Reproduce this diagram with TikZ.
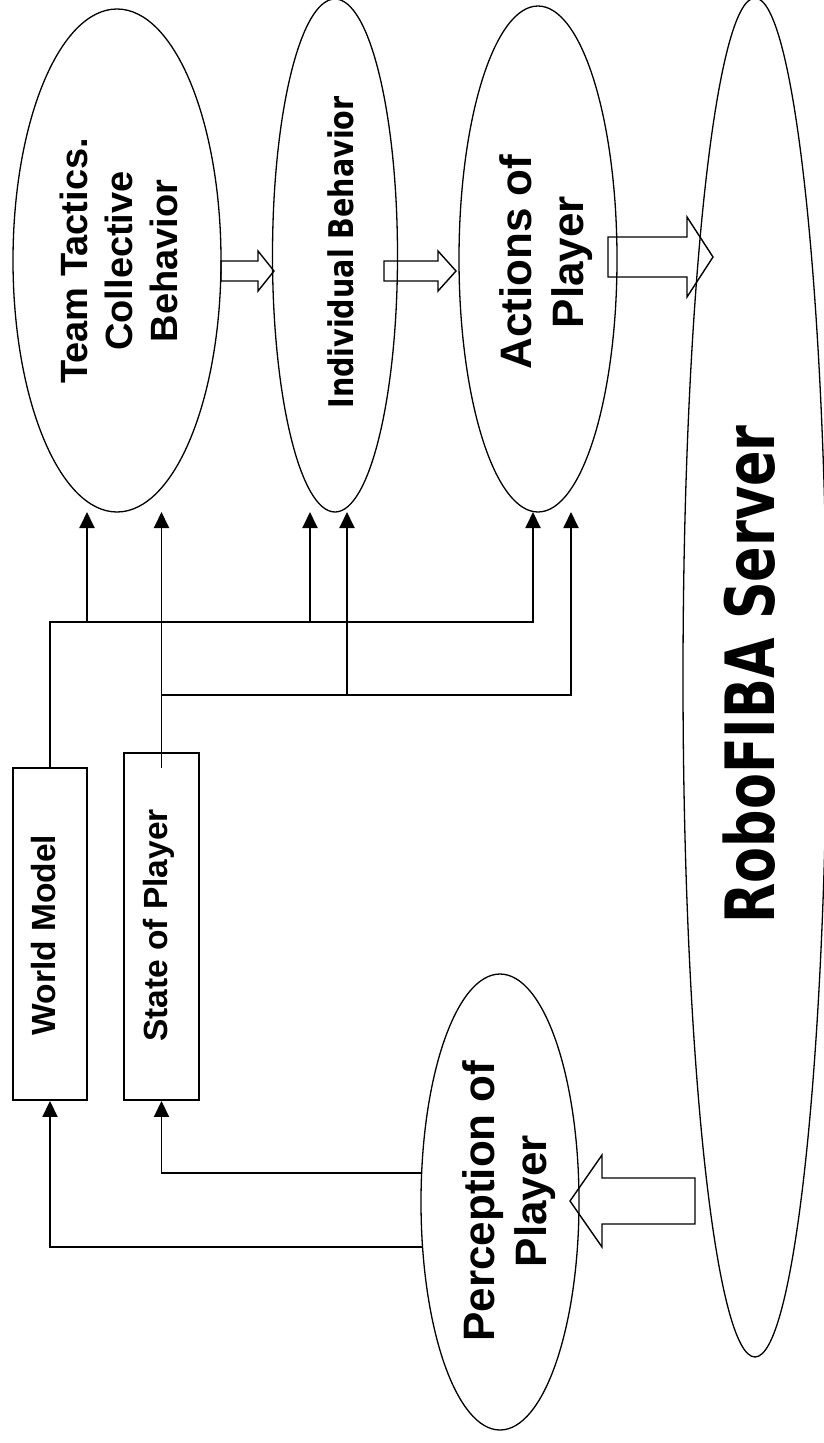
\documentclass[tikz,border=0pt]{standalone}
\usepackage{fontspec}
\setmainfont{Liberation Sans}
\newfontfamily\srvfont{DejaVu Sans}[FakeStretch=0.77]
\newfontfamily\indfont{DejaVu Sans}[FakeStretch=0.84]
\usetikzlibrary{shapes.geometric,arrows.meta}
\begin{document}
\begin{tikzpicture}[x=1pt,y=-1pt,
  oval/.style={draw, ellipse, line width=1.3pt, inner sep=0pt},
  box/.style={draw, rectangle, line width=1.9pt, inner sep=0pt},
  lbl/.style={rotate=90, align=center, inner sep=0pt},
  conn/.style={line width=1.9pt},
  arr/.style={conn, -{Triangle[length=16pt,width=15pt]}},
  blk/.style={draw, line width=1.4pt, line join=miter}]
\fill[white] (0,0) rectangle (824,1443);
\useasboundingbox (0,0) rectangle (824,1443);

% ellipses
\node[oval, minimum width=208pt, minimum height=503pt] (team) at (117,260.5) {};
\node[oval, minimum width=125pt, minimum height=513pt] (indiv) at (335,255.5) {};
\node[oval, minimum width=158pt, minimum height=506pt] (act) at (538,259) {};
\node[oval, minimum width=144pt, minimum height=1359pt] (server) at (755,677.5) {};
\node[oval, minimum width=158pt, minimum height=456pt] (perc) at (500,1202) {};

% boxes
\node[box, minimum width=74pt, minimum height=332pt] (wm) at (50,934) {};
\node[box, minimum width=75pt, minimum height=347pt] (sp) at (161.5,926.5) {};

% labels
\node[lbl, font=\bfseries\fontsize{38}{45}\selectfont] (teamt) at (118.5,261) {Team Tactics.\\Collective\\Behavior};
\node[lbl, font=\indfont\bfseries\fontsize{34}{40}\selectfont] (indivt) at (341,252.5) {Individual Behavior};
\node[lbl, font=\bfseries\fontsize{44}{52}\selectfont] (actt) at (546.5,262) {Actions of\\Player};
\node[lbl, font=\srvfont\bfseries\fontsize{68}{80}\selectfont] (servert) at (749,674.5) {RoboFIBA Server};
\node[lbl, font=\bfseries\fontsize{44}{52}\selectfont] (perct) at (509.5,1201) {Perception of\\Player};
\node[lbl, font=\bfseries\fontsize{33.5}{40}\selectfont] (wmt) at (43.5,935) {World Model};
\node[lbl, font=\bfseries\fontsize{33.5}{40}\selectfont] (spt) at (158.5,925.5) {State of Player};

% coordinates
\coordinate (wmbus) at (50,622);
\coordinate (spstart) at (161.5,768);
\coordinate (spbus) at (161.5,695);
\coordinate (t1) at (87,512);
\coordinate (t2) at (161.5,512);
\coordinate (t3) at (310,512);
\coordinate (t4) at (347,512);
\coordinate (t5) at (533,512);
\coordinate (t6) at (571,512);
\coordinate (p1) at (421.5,1173);
\coordinate (p2) at (422.5,1247);

% world model connectors
\draw[arr] (wm.north) |- (t5 |- wmbus) -- (t5);
\draw[arr] (t1 |- wmbus) -- (t1);
\draw[arr] (t3 |- wmbus) -- (t3);
% state connectors
\draw[arr] (spstart) -- (t2);
\draw[arr] (spbus) -| (t6);
\draw[arr] (t4 |- spbus) -- (t4);
% perception connectors
\draw[arr] (p1) -| (sp.south);
\draw[arr] (p2) -| (wm.south);

% block arrows
\draw[blk] (221,261) -- (258,261) -- (258,251) -- (274,271) -- (258,291) -- (258,281) -- (221,281) -- cycle;
\draw[blk] (384,261) -- (438,261) -- (438,251) -- (456,271) -- (438,291) -- (438,281) -- (384,281) -- cycle;
\draw[blk] (608,237) -- (687,237) -- (687,217) -- (713,257) -- (687,297) -- (687,277) -- (608,277) -- cycle;
\draw[blk] (695,1178) -- (602,1178) -- (602,1155) -- (570,1201) -- (602,1247) -- (602,1224) -- (695,1224) -- cycle;
\end{tikzpicture}
\end{document}
